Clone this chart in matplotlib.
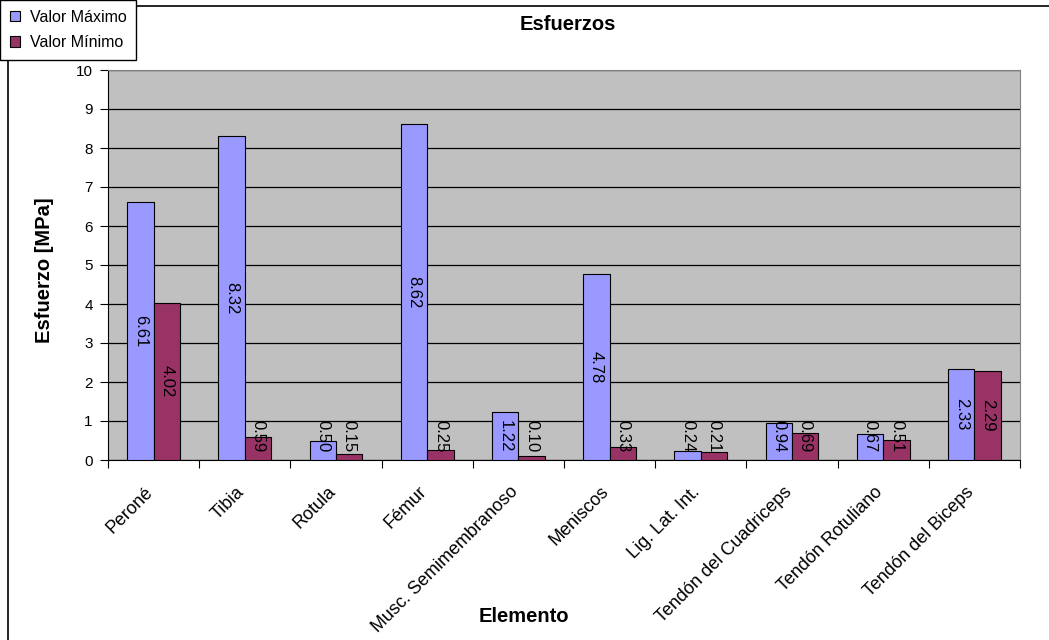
import matplotlib
matplotlib.use('Agg')
import matplotlib.pyplot as plt
import numpy as np
from matplotlib.patches import Rectangle

plt.rcParams['font.family'] = ['Liberation Sans', 'DejaVu Sans']

# data
elementos = ['Peroné', 'Tibia', 'Rotula', 'Fémur', 'Musc. Semimembranoso', 'Meniscos',
             'Lig. Lat. Int.', 'Tendón del Cuadriceps', 'Tendón Rotuliano', 'Tendón del Biceps']
valor_max = [6.61, 8.32, 0.50, 8.62, 1.22, 4.78, 0.24, 0.94, 0.67, 2.33]
valor_min = [4.02, 0.59, 0.15, 0.25, 0.10, 0.33, 0.21, 0.69, 0.51, 2.29]

col_max = '#9999FF'
col_min = '#993366'

fig = plt.figure(figsize=(10.49, 6.40), dpi=100)
ax = fig.add_axes([108/1049, 1 - 460/640, 912/1049, 390/640])
ax.set_facecolor('#C0C0C0')

x = np.arange(len(elementos))
w = 0.29
b1 = ax.bar(x - w/2, valor_max, w, color=col_max, edgecolor='black', linewidth=0.8, label='Valor Máximo', zorder=3)
b2 = ax.bar(x + w/2, valor_min, w, color=col_min, edgecolor='black', linewidth=0.8, label='Valor Mínimo', zorder=3)

# vertical data labels, centred in bar, lifted off the axis for short bars
for xs, vals in ((x - w/2, valor_max), (x + w/2, valor_min)):
    for xi, v in zip(xs, vals):
        ax.text(xi, max(v/2, 0.62), f'{v:.2f}', rotation=-90, ha='center', va='center',
                fontsize=12, zorder=4)

ax.set_xlim(-0.5, len(elementos) - 0.5)
ax.set_ylim(0, 10)
ax.set_yticks(range(0, 11))
ax.yaxis.grid(True, color='black', linewidth=0.9, zorder=1)
ax.tick_params(axis='y', labelsize=11, length=6, pad=5, direction='out', color='black')

ax.set_xticks(np.arange(len(elementos) + 1) - 0.5)
ax.set_xticklabels([])
ax.tick_params(axis='x', length=6, direction='out')
for xi, name in zip(x, elementos):
    ax.text(xi - 0.1, -0.6, name, rotation=45, ha='right', va='top', rotation_mode='anchor',
            fontsize=13)

for s in ['top', 'right']:
    ax.spines[s].set_color('#808080')
ax.spines['left'].set_color('black')
ax.spines['bottom'].set_color('black')

fig.text(45/1049, 1 - 270/640, 'Esfuerzo [MPa]', rotation=90, ha='center', va='center',
         fontsize=14.5, fontweight='bold')
fig.text(568/1049, 1 - 24/640, 'Esfuerzos', ha='center', va='center', fontsize=14.5, fontweight='bold')
fig.text(524/1049, 1 - 617/640, 'Elemento', ha='center', va='center', fontsize=14.5, fontweight='bold')

# outer chart frame
fig.patches.append(Rectangle((8/1049, -0.05), 1.1, 1.05 - 6/640, transform=fig.transFigure,
                             fill=False, edgecolor='black', linewidth=1.2, zorder=0))

leg = fig.legend(handles=[b1, b2], loc='upper left', bbox_to_anchor=(0, 1), fontsize=11.5,
                 frameon=True, fancybox=False, edgecolor='black', framealpha=1,
                 handlelength=0.65, handleheight=0.65, handletextpad=0.6, borderpad=0.6,
                 labelspacing=0.65, borderaxespad=0)
leg.get_frame().set_linewidth(1.0)

fig.savefig('out.png', dpi=100)
